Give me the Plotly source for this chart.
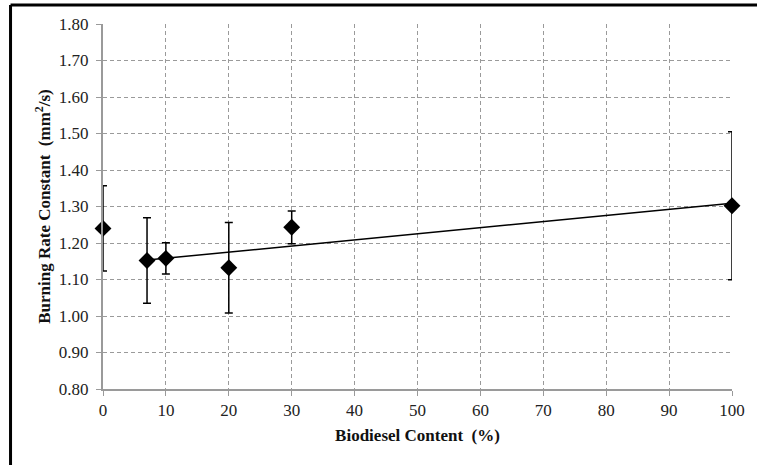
import numpy as np
import plotly.graph_objects as go

# Data
content = [0, 7, 10, 20, 30, 100]          # Biodiesel content (%)
rate = [1.24, 1.152, 1.158, 1.132, 1.243, 1.302]   # burning rate constant (mm2/s)
err = [0.117, 0.117, 0.043, 0.124, 0.045, 0.203]

x_ticks = list(range(0, 101, 10))
y_ticks = [round(0.8 + 0.1 * i, 2) for i in range(11)]

# linear trendline through biodiesel blends (x > 0)
bx = np.array(content[1:], dtype=float)
by = np.array(rate[1:], dtype=float)
slope, intercept = np.polyfit(bx, by, 1)
tx = [bx.min(), bx.max()]
ty = [slope * v + intercept for v in tx]

fig = go.Figure()
fig.add_trace(go.Scatter(x=tx, y=ty, mode="lines",
                         line=dict(color="black", width=1.5),
                         showlegend=False, hoverinfo="skip"))
fig.add_trace(go.Scatter(
    x=content, y=rate, mode="markers",
    marker=dict(symbol="diamond", size=13, color="black"),
    error_y=dict(type="data", array=err, visible=True, color="black",
                 thickness=1.5, width=4),
    showlegend=False, cliponaxis=False))

font_family = "Liberation Serif, Times New Roman, serif"

fig.update_layout(
    width=757, height=465,
    margin=dict(l=103, r=22, t=24, b=76),
    paper_bgcolor="white", plot_bgcolor="white",
    font=dict(family=font_family, size=17, color="#222"),
    xaxis=dict(
        range=[0, 100], tickvals=x_ticks, ticktext=[str(v) for v in x_ticks],
        showgrid=True, gridcolor="#9a9a9a", gridwidth=1, griddash="4px,3px",
        showline=True, linecolor="#9a9a9a", linewidth=2,
        ticks="outside", ticklen=5, tickcolor="#9a9a9a", tickwidth=1,
        zeroline=False,
        tickfont=dict(family=font_family, size=17, color="#222"),
        title=dict(text="Biodiesel Content  (%)", standoff=10,
                   font=dict(family=font_family, size=17, color="#111", weight="bold")),
    ),
    yaxis=dict(
        range=[0.8, 1.8], tickvals=y_ticks, ticktext=[f"{v:.2f}" for v in y_ticks],
        showgrid=True, gridcolor="#9a9a9a", gridwidth=1, griddash="4px,3px",
        showline=True, linecolor="#9a9a9a", linewidth=2,
        ticks="outside", ticklen=5, tickcolor="#9a9a9a", tickwidth=1,
        zeroline=False, ticklabelstandoff=4,
        tickfont=dict(family=font_family, size=17, color="#222"),
        title=dict(text="Burning Rate Constant  (mm<sup>2</sup>/s)", standoff=4,
                   font=dict(family=font_family, size=17, color="#111", weight="bold")),
    ),
)

# outer frame (top and left black edges)
fig.add_shape(type="line", xref="paper", yref="paper",
              x0=-0.147, x1=1.04, y0=1.052, y1=1.052,
              line=dict(color="black", width=3))
fig.add_shape(type="line", xref="paper", yref="paper",
              x0=-0.147, x1=-0.147, y0=1.052, y1=-0.22,
              line=dict(color="black", width=3))

fig.write_html("out.html")
